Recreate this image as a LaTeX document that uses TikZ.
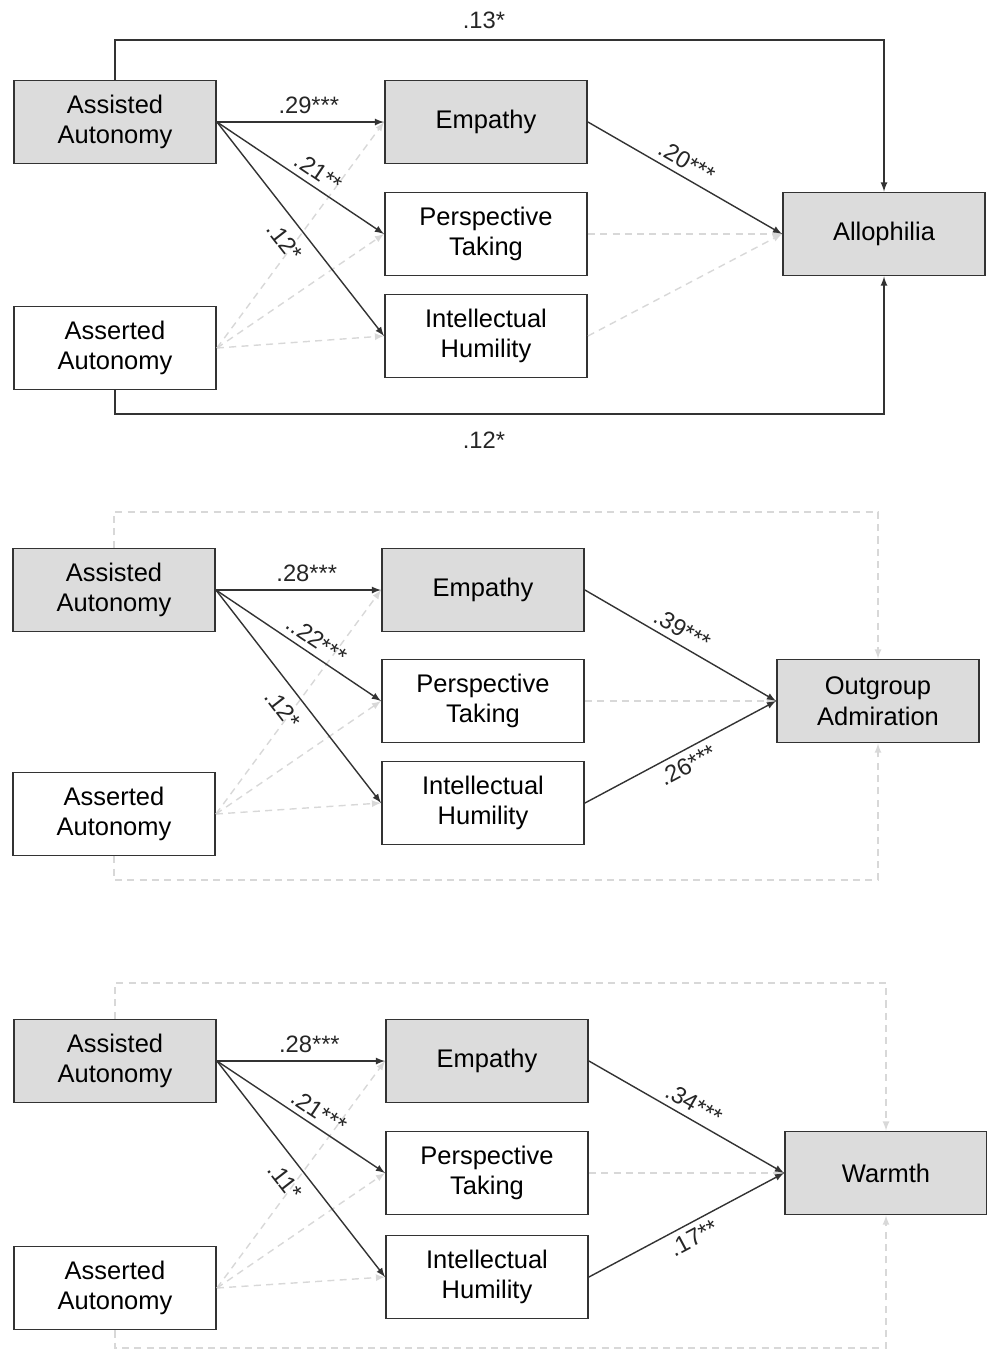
\documentclass[tikz,border=0pt]{standalone}
\usepackage{fontspec}
\setmainfont{Liberation Sans}
\usepackage{xcolor}
\usepackage{tikz}

\definecolor{boxgray}{HTML}{DCDCDC}
\definecolor{linegray}{HTML}{333333}
\definecolor{dashgray}{HTML}{D8D8D8}

\tikzset{
  var/.style={draw=linegray, line width=1.1pt, minimum width=4.04cm, minimum height=1.66cm,
    inner sep=0pt, align=center, font=\fontsize{14.5}{17.5}\selectfont},
  shaded/.style={var, fill=boxgray},
  path/.style={draw=linegray, line width=0.8pt, -latex},
  nspath/.style={draw=dashgray, line width=0.8pt, dash pattern=on 4pt off 3pt, -latex},
  coef/.style={font=\fontsize{13.5}{15}\selectfont, text=black!85}
}

\begin{document}
\begin{tikzpicture}[x=0.02cm, y=-0.02cm]
            \useasboundingbox (0,0) rectangle (987,1353);

            % allophilia model
            \node[shaded] (aa1) at (115, 122) {Assisted\\Autonomy};
            \node[var] (as1) at (115, 348) {Asserted\\Autonomy};
            \node[shaded] (em1) at (486, 122) {Empathy};
            \node[var] (pt1) at (486, 234) {Perspective\\Taking};
            \node[var] (ih1) at (486, 336) {Intellectual\\Humility};
            \node[shaded] (allo) at (884, 234) {Allophilia};
            \coordinate (top1) at (0, 40);
            \coordinate (bot1) at (0, 414);

            \draw[nspath] (as1.east) -- (em1.west); % as-em
            \draw[nspath] (as1.east) -- (pt1.west); % as-pt
            \draw[nspath] (as1.east) -- (ih1.west); % as-ih
            \draw[nspath] (pt1.east) -- (allo.west); % pt-allo
            \draw[nspath] (ih1.east) -- (allo.west); % ih-allo

            \draw[path] (aa1.east) -- (em1.west) node[coef, pos=.55, above=1pt] (c1a) {.29***}; % aa-em
            \draw[path] (aa1.east) -- (pt1.west) node[coef, sloped, above, pos=.56] (c1b) {.21**}; % aa-pt
            \draw[path] (aa1.east) -- (ih1.west) node[coef, sloped, below=3pt, pos=.5] (c1c) {.12*}; % aa-ih
            \draw[path] (em1.east) -- (allo.west) node[coef, sloped, above, pos=.47] (c1d) {.20***}; % em-allo
            \draw[path] (aa1.north) -- (aa1.north |- top1) -- (allo.north |- top1) -- (allo.north); % aa-allo
            \draw[path] (as1.south) -- (as1.south |- bot1) -- (allo.south |- bot1) -- (allo.south); % as-allo
            \node[coef] (c1e) at (484, 20) {.13*};
            \node[coef] (c1f) at (484, 440) {.12*};

            % outgroup admiration model
            \node[shaded] (aa2) at (114, 590) {Assisted\\Autonomy};
            \node[var] (as2) at (114, 814) {Asserted\\Autonomy};
            \node[shaded] (em2) at (483, 590) {Empathy};
            \node[var] (pt2) at (483, 701) {Perspective\\Taking};
            \node[var] (ih2) at (483, 803) {Intellectual\\Humility};
            \node[shaded] (oa) at (878, 701) {Outgroup\\Admiration};
            \coordinate (top2) at (0, 512);
            \coordinate (bot2) at (0, 880);

            \draw[nspath] (as2.east) -- (em2.west); % as-em
            \draw[nspath] (as2.east) -- (pt2.west); % as-pt
            \draw[nspath] (as2.east) -- (ih2.west); % as-ih
            \draw[nspath] (pt2.east) -- (oa.west); % pt-oa
            \draw[nspath] (aa2.north) -- (aa2.north |- top2) -- (oa.north |- top2) -- (oa.north); % aa-oa
            \draw[nspath] (as2.south) -- (as2.south |- bot2) -- (oa.south |- bot2) -- (oa.south); % as-oa

            \draw[path] (aa2.east) -- (em2.west) node[coef, pos=.55, above=1pt] (c2a) {.28***}; % aa-em
            \draw[path] (aa2.east) -- (pt2.west) node[coef, sloped, above, pos=.56] (c2b) {..22***}; % aa-pt
            \draw[path] (aa2.east) -- (ih2.west) node[coef, sloped, below=3pt, pos=.5] (c2c) {.12*}; % aa-ih
            \draw[path] (em2.east) -- (oa.west) node[coef, sloped, above, pos=.47] (c2d) {.39***}; % em-oa
            \draw[path] (ih2.east) -- (oa.west) node[coef, sloped, below, pos=.5] (c2e) {.26***}; % ih-oa

            % warmth model
            \node[shaded] (aa3) at (115, 1061) {Assisted\\Autonomy};
            \node[var] (as3) at (115, 1288) {Asserted\\Autonomy};
            \node[shaded] (em3) at (487, 1061) {Empathy};
            \node[var] (pt3) at (487, 1173) {Perspective\\Taking};
            \node[var] (ih3) at (487, 1277) {Intellectual\\Humility};
            \node[shaded] (warm) at (886, 1173) {Warmth};
            \coordinate (top3) at (0, 983);
            \coordinate (bot3) at (0, 1348);

            \draw[nspath] (as3.east) -- (em3.west); % as-em
            \draw[nspath] (as3.east) -- (pt3.west); % as-pt
            \draw[nspath] (as3.east) -- (ih3.west); % as-ih
            \draw[nspath] (pt3.east) -- (warm.west); % pt-warm
            \draw[nspath] (aa3.north) -- (aa3.north |- top3) -- (warm.north |- top3) -- (warm.north); % aa-warm
            \draw[nspath] (as3.south) -- (as3.south |- bot3) -- (warm.south |- bot3) -- (warm.south); % as-warm

            \draw[path] (aa3.east) -- (em3.west) node[coef, pos=.55, above=1pt] (c3a) {.28***}; % aa-em
            \draw[path] (aa3.east) -- (pt3.west) node[coef, sloped, above, pos=.56] (c3b) {.21***}; % aa-pt
            \draw[path] (aa3.east) -- (ih3.west) node[coef, sloped, below=3pt, pos=.5] (c3c) {.11*}; % aa-ih
            \draw[path] (em3.east) -- (warm.west) node[coef, sloped, above, pos=.5] (c3d) {.34***}; % em-warm
            \draw[path] (ih3.east) -- (warm.west) node[coef, sloped, below, pos=.5] (c3e) {.17**}; % ih-warm
        \end{tikzpicture}
\end{document}
